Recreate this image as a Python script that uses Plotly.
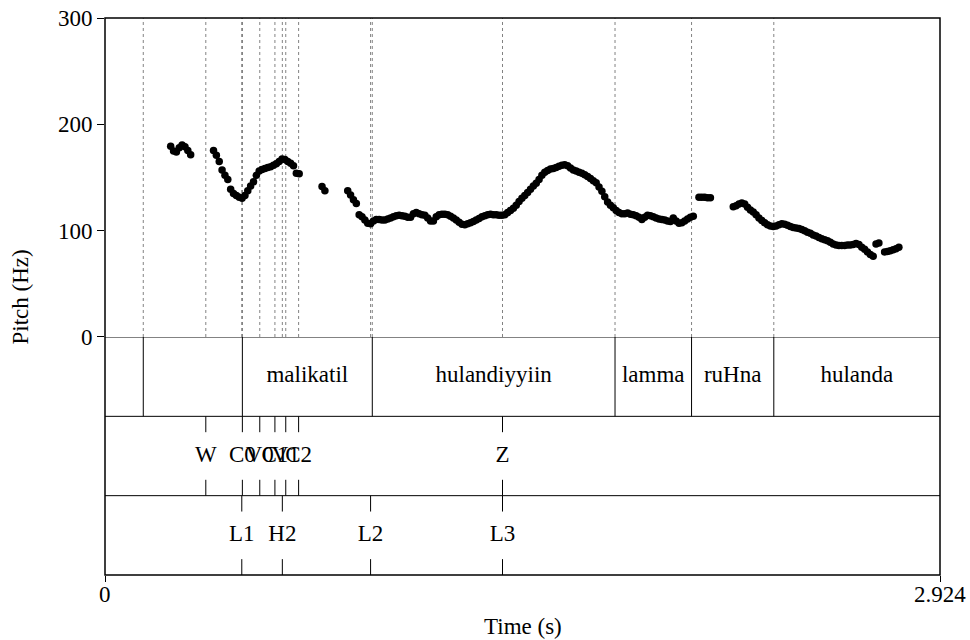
import plotly.graph_objects as go

# ---------------- data ----------------
T_END = 2.924
FRAME_STEP = 0.01  # pitch analysis frame step (s)

# pitch track: each voiced stretch = start time + Hz values per frame
seg_starts = [0.23, 0.38, 0.44, 0.76, 0.85, 0.89, 2.08, 2.20, 2.70, 2.73]
seg_values = [
    [179.5, 175, 174, 178, 180.5, 179, 175.5, 171.5],
    [175.5, 171, 165, 157, 152, 148],
    [139, 135, 133, 131.5, 130.5, 133, 137.5, 142, 146, 152, 156, 157.5, 158.5, 159.5,
     160, 161.5, 163, 165, 167.5, 167, 165, 163.5, 161, 154, 153.5],
    [141.5, 137.5],
    [137.5, 133.5, 129, 125.5],
    [115, 113, 110, 107, 106.5, 109, 110.5, 110.5, 110, 110, 111,
     112, 113, 114, 114.5, 114, 113.5, 112.5, 112.5, 116, 117,
     116, 115, 114.5, 112, 109, 109, 113, 115, 115.5, 115.5,
     115, 113.5, 112, 110, 108, 106, 105.5, 106.5, 107.5, 108.5,
     110, 111.5, 113, 114, 115, 115.5, 115, 115, 114.5, 114.5,
     115, 117, 119, 121, 124, 127.5, 130.5, 133, 136, 139,
     142, 144.5, 148, 152, 155, 156.5, 158, 158.5, 159.5, 160.5,
     161.5, 162, 161, 159, 157, 156, 155, 154, 152.5, 151,
     149, 147, 145, 141, 137, 132, 127, 124, 121.5, 119,
     117, 116, 116, 116.5, 115.5, 115, 114, 112.5, 110.5, 112.5,
     114.5, 114, 113, 112, 111, 110.5, 110, 109, 108.5, 112,
     109, 107, 107.5, 109, 111, 112.5, 113.5],
    [131.5, 131.5, 131.5, 131, 131],
    [122.5, 123.5, 125, 126, 125, 122, 119.5, 117.5, 115, 112,
     109.5, 107.5, 105.5, 104.5, 104, 104.5, 105.5, 106.5, 106, 105,
     104, 103, 102.5, 102, 101, 100, 98.5, 97.5, 96, 95,
     93.5, 92.5, 91.5, 90.5, 89, 87.5, 86.5, 86, 86, 86,
     86.5, 86.5, 87, 88, 87, 84.5, 82.5, 80, 77.5, 76],
    [87.5, 88.5],
    [80, 80.5, 81, 82, 83, 84.5],
]

# tier 1: intervals (words)
tier1_bounds = [0.134, 0.481, 0.936, 1.786, 2.054, 2.342]
tier1_labels = ["", "", "malikatil", "hulandiyyiin", "lamma", "ruHna", "hulanda"]
# tier 2: points
tier2_times = [0.353, 0.481, 0.542, 0.595, 0.633, 0.678, 1.392]
tier2_labels = ["W", "C0", "V0", "C1", "V1", "C2", "Z"]
# tier 3: points (tones)
tier3_times = [0.479, 0.621, 0.930, 1.392]
tier3_labels = ["L1", "H2", "L2", "L3"]

y_ticks = [0, 100, 200, 300]
x_ticks = [0, T_END]
x_ticktext = ["0", "2.924"]

# ---------------- figure ----------------
FONT = "Liberation Serif, Times New Roman, serif"
PITCH_BOTTOM = 0.4273

xs, ys = [], []
for s, vals in zip(seg_starts, seg_values):
    for i, v in enumerate(vals):
        xs.append(round(s + i * FRAME_STEP, 3))
        ys.append(v)

fig = go.Figure()
fig.add_trace(go.Scatter(x=xs, y=ys, mode="markers",
                         marker=dict(color="black", size=7.5, line=dict(width=0)),
                         xaxis="x", yaxis="y", hoverinfo="skip"))

# tier texts
edges = [0] + tier1_bounds + [T_END]
mid1 = [(edges[i] + edges[i + 1]) / 2 for i in range(len(tier1_labels))]
for xv, yv, lab in [(mid1, 2.5, tier1_labels), (tier2_times, 1.5, tier2_labels),
                    (tier3_times, 0.5, tier3_labels)]:
    fig.add_trace(go.Scatter(x=xv, y=[yv] * len(xv), text=lab, mode="text",
                             textposition="middle center",
                             textfont=dict(size=23, family=FONT, color="black"),
                             xaxis="x", yaxis="y2", hoverinfo="skip"))

shapes = []
# dotted guide lines in pitch area
for t in tier1_bounds + tier2_times + tier3_times:
    shapes.append(dict(type="line", xref="x", yref="y", x0=t, x1=t, y0=0, y1=300,
                       line=dict(color="rgb(130,130,130)", width=1, dash="dot"), layer="below"))
# tier 1 boundaries
for t in tier1_bounds:
    shapes.append(dict(type="line", xref="x", yref="y2", x0=t, x1=t, y0=2, y1=3,
                       line=dict(color="black", width=1)))
# point ticks
for t in tier2_times:
    shapes.append(dict(type="line", xref="x", yref="y2", x0=t, x1=t, y0=1.8, y1=2,
                       line=dict(color="black", width=1)))
    shapes.append(dict(type="line", xref="x", yref="y2", x0=t, x1=t, y0=1, y1=1.2,
                       line=dict(color="black", width=1)))
for t in tier3_times:
    shapes.append(dict(type="line", xref="x", yref="y2", x0=t, x1=t, y0=0.8, y1=1,
                       line=dict(color="black", width=1)))
    shapes.append(dict(type="line", xref="x", yref="y2", x0=t, x1=t, y0=0, y1=0.2,
                       line=dict(color="black", width=1)))
# tier separators
for yv in [3, 2, 1]:
    shapes.append(dict(type="line", xref="paper", yref="y2", x0=0, x1=1, y0=yv, y1=yv,
                       line=dict(color="black", width=1)))
# outer box
shapes.append(dict(type="rect", xref="paper", yref="paper", x0=0, x1=1, y0=0, y1=1,
                   line=dict(color="black", width=1.5)))

annotations = [
    dict(text="Pitch (Hz)", xref="paper", yref="paper", x=-0.1006, y=0.5,
         textangle=-90, showarrow=False, font=dict(size=23, family=FONT),
         xanchor="center", yanchor="middle"),
    dict(text="Time (s)", xref="paper", yref="paper", x=0.5, y=-0.0916,
         showarrow=False, font=dict(size=23, family=FONT),
         xanchor="center", yanchor="middle"),
]
for xv, txt in zip(x_ticks, x_ticktext):
    annotations.append(dict(text=txt, xref="x", yref="paper", x=xv, y=-0.0359,
                            showarrow=False, font=dict(size=23, family=FONT),
                            xanchor="center", yanchor="middle"))

fig.update_layout(
    width=970, height=640,
    margin=dict(l=105, r=30, t=18, b=65, autoexpand=False),
    plot_bgcolor="white", paper_bgcolor="white",
    showlegend=False,
    font=dict(family=FONT, size=23, color="black"),
    xaxis=dict(range=[0, T_END], anchor="y2", tickvals=x_ticks, showticklabels=False,
               ticks="outside", ticklen=6, tickwidth=1, tickcolor="black",
               showgrid=False, zeroline=False, showline=False, automargin=False),
    yaxis=dict(domain=[PITCH_BOTTOM, 1], range=[0, 300], tickvals=y_ticks,
               ticks="outside", ticklen=7, tickwidth=1, tickcolor="black",
               showgrid=False, zeroline=False, showline=False, automargin=False,
               tickfont=dict(size=23, family=FONT)),
    yaxis2=dict(domain=[0, PITCH_BOTTOM], range=[0, 3], showticklabels=False,
                ticks="", showgrid=False, zeroline=False, showline=False, automargin=False),
    shapes=shapes,
    annotations=annotations,
)

fig.write_html("out.html", config={"displayModeBar": False},
               post_script="document.body.style.margin='0';document.body.style.overflow='hidden';")
